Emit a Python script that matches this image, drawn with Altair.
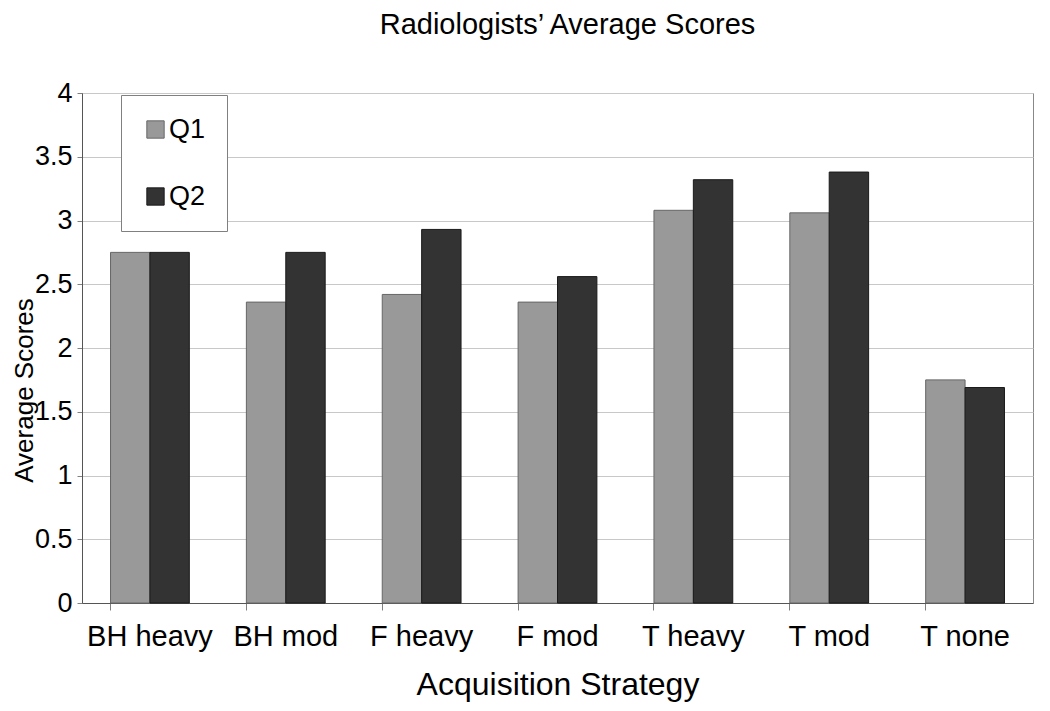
import altair as alt
import pandas as pd

categories = ["BH heavy", "BH mod", "F heavy", "F mod", "T heavy", "T mod", "T none"]
q1_scores = [2.75, 2.36, 2.42, 2.36, 3.08, 3.06, 1.75]
q2_scores = [2.75, 2.75, 2.93, 2.56, 3.32, 3.38, 1.69]
series = ["Q1", "Q2"]

rows = []
for c, a, b in zip(categories, q1_scores, q2_scores):
    rows.append({"cat": c, "q": "Q1", "v": a})
    rows.append({"cat": c, "q": "Q2", "v": b})
df = pd.DataFrame(rows)

FONT = "Liberation Sans"

chart = alt.Chart(df).mark_bar(strokeWidth=1).encode(
    x=alt.X("cat:N", sort=categories,
            scale=alt.Scale(paddingInner=0.42, paddingOuter=0.21),
            axis=alt.Axis(title="Acquisition Strategy", labelAngle=0, bandPosition=0,
                          tickSize=7, tickColor="#808080", domainColor="#555555",
                          labelFontSize=29, labelPadding=12, labelColor="#000000",
                          titleFontSize=32, titlePadding=18, titleFontWeight="normal",
                          titleColor="#000000", grid=False)),
    xOffset=alt.XOffset("q:N", sort=series, scale=alt.Scale(paddingInner=0, paddingOuter=0)),
    y=alt.Y("v:Q", scale=alt.Scale(domain=[0, 4], nice=False),
            axis=alt.Axis(title="Average Scores", values=[0, 0.5, 1, 1.5, 2, 2.5, 3, 3.5, 4],
                          format="~g", tickSize=5, tickColor="#808080", domainColor="#555555",
                          labelFontSize=27, labelPadding=5, labelColor="#000000",
                          gridColor="#c8c8c8", gridWidth=1,
                          titleFontSize=26, titleFontWeight="normal", titleColor="#000000",
                          titleX=-45, titleY=297)),
    color=alt.Color("q:N", sort=series,
                    scale=alt.Scale(domain=series, range=["#999999", "#333333"]),
                    legend=alt.Legend(title=None, orient="none", legendX=39, legendY=2,
                                      padding=21, rowPadding=39, symbolType="square",
                                      symbolSize=300, symbolStrokeColor="#444444",
                                      symbolStrokeWidth=1, labelFontSize=27, labelOffset=0,
                                      labelColor="#000000",
                                      strokeColor="#808080", fillColor="#ffffff")),
    stroke=alt.Stroke("q:N", sort=series,
                      scale=alt.Scale(domain=series, range=["#666666", "#1a1a1a"]),
                      legend=None),
).properties(
    width=951,
    height=510,
    title=alt.TitleParams("Radiologists’ Average Scores", fontSize=29, font=FONT,
                          fontWeight="normal", color="#000000", anchor="middle",
                          dx=10, offset=16, baseline="alphabetic"),
    autosize=alt.AutoSizeParams(type="none"),
    padding={"left": 74, "top": 85, "right": 8, "bottom": 105},
).configure(
    font=FONT,
    background="#ffffff",
).configure_view(
    stroke="#888888", strokeWidth=1,
)

chart.save("out.html", embed_options={"renderer": "svg", "actions": False})
